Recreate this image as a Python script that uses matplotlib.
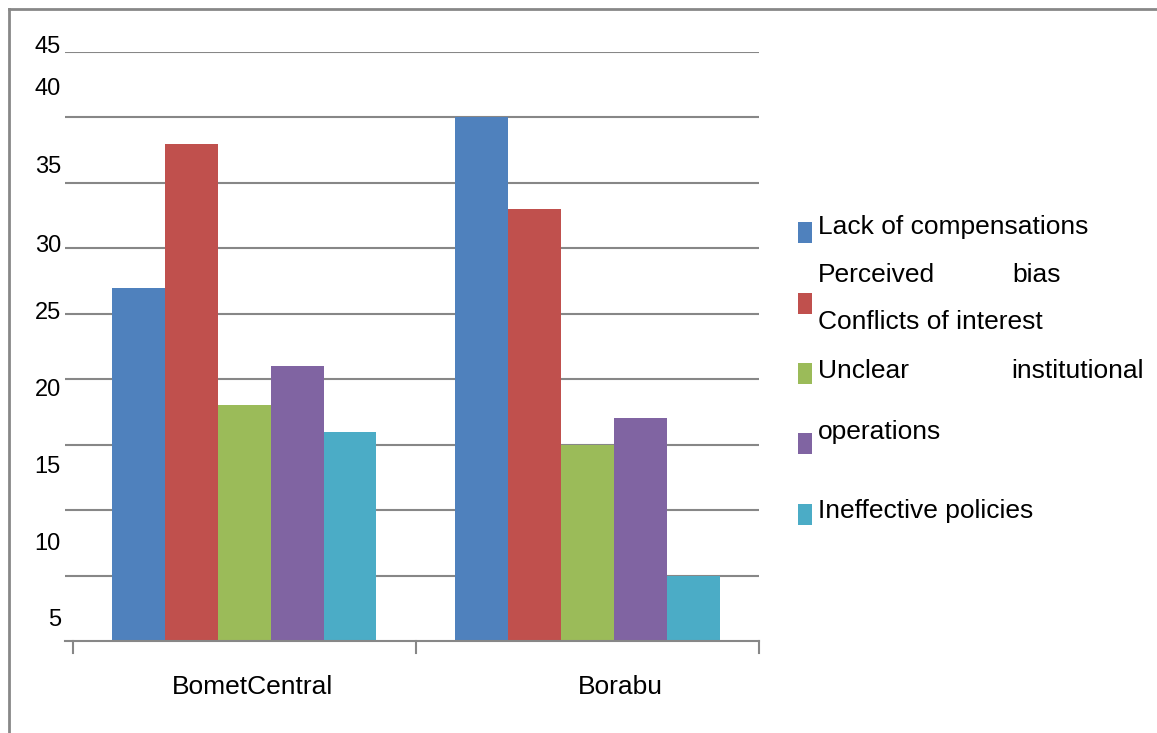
import matplotlib
matplotlib.use("Agg")
import matplotlib.pyplot as plt
from matplotlib.patches import Rectangle
from matplotlib.lines import Line2D
import numpy as np

plt.rcParams['font.family'] = ['Liberation Sans', 'DejaVu Sans']

regions = ["BometCentral", "Borabu"]
factors = ["Lack of compensations", "Perceived bias", "Conflicts of interest",
           "Unclear institutional operations", "Ineffective policies"]
values = {
    "BometCentral": [27, 38, 18, 21, 16],
    "Borabu": [40, 33, 15, 17, 5],
}
colors = ["#4F81BD", "#C0504D", "#9BBB59", "#8064A2", "#4BACC6"]
ytick_labels = ["45", "40", "35", "30", "25", "20", "15", "10", "5"]

W, H = 1157, 733
fig = plt.figure(figsize=(W / 100, H / 100), dpi=100)


def fx(px):
    return px / W


def fy(py):
    return 1 - py / H


ax = fig.add_axes([fx(65), fy(641), fx(759) - fx(65), fy(52) - fy(641)])
ax.set_xlim(-0.523, 1.5)
ax.set_ylim(0, 45)

grid_c = "#878787"
for yv in np.arange(5, 46, 5):
    ax.axhline(yv, color=grid_c, lw=1.5, zorder=0)
ax.axhline(0, color=grid_c, lw=1.5, zorder=3, clip_on=False)

n = len(colors)
bw = 0.77 / n
x = np.arange(len(regions))
for i in range(n):
    vals = [values[r][i] for r in regions]
    ax.bar(x - 0.385 + bw * (i + 0.5), vals, width=bw, color=colors[i], zorder=2, linewidth=0)

for s in ax.spines.values():
    s.set_visible(False)
ax.set_xticks([])
ax.set_yticks([])

# bottom category separators
for xt in [-0.5, 0.5, 1.5]:
    ax.plot([xt, xt], [0, -0.95], color=grid_c, lw=1.5, clip_on=False)

# y labels
label_y = [47, 89, 167, 246, 313, 390, 467, 544, 620]
for lab, py in zip(ytick_labels, label_y):
    fig.text(fx(61), fy(py), lab, ha="right", va="center", fontsize=17, color="black")

# category labels
fig.text(fx(253), fy(687), regions[0], ha="center", va="center", fontsize=19)
fig.text(fx(620), fy(687), regions[1], ha="center", va="center", fontsize=19)

# legend
sq_top = [222, 293, 363, 433, 504]
for c, t in zip(colors, sq_top):
    fig.patches.append(Rectangle((fx(798), fy(t + 21)), fx(14), 21 / H,
                                 transform=fig.transFigure, color=c, linewidth=0))
legend_rows = [
    ("Lack of compensations", 818, 227),
    ("Perceived", 818, 275),
    ("bias", 1012, 275),
    ("Conflicts of interest", 818, 322),
    ("Unclear", 818, 371),
    ("institutional", 1011, 371),
    ("operations", 818, 432),
    ("Ineffective policies", 818, 511),
]
for txt, px, py in legend_rows:
    fig.text(fx(px), fy(py), txt, ha="left", va="center", fontsize=19)

# frame
frame_c = "#888888"
fig.add_artist(Line2D([fx(9), fx(9)], [fy(9), 0], color=frame_c, lw=2, transform=fig.transFigure))
fig.add_artist(Line2D([fx(9), 1], [fy(9), fy(9)], color=frame_c, lw=2, transform=fig.transFigure))

fig.savefig("out.png", dpi=100)
